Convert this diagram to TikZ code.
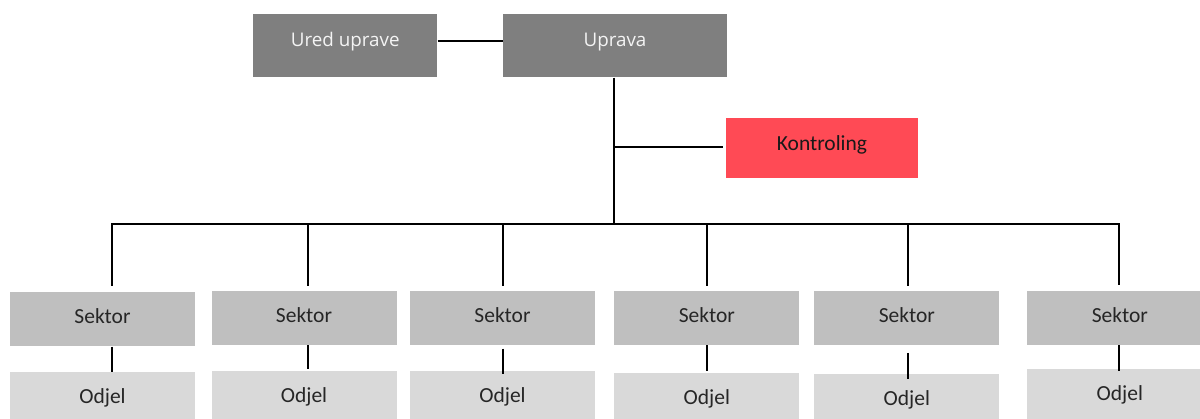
\documentclass[tikz,border=0pt]{standalone}
\usepackage{fontspec}
\setmainfont{Carlito}
\newfontfamily\osans{Open Sans}
\usetikzlibrary{calc}
\definecolor{topgray}{HTML}{7F7F7F}
\definecolor{toptext}{HTML}{F4F4F4}
\definecolor{kred}{HTML}{FF4A55}
\definecolor{sgray}{HTML}{BFBFBF}
\definecolor{ogray}{HTML}{D9D9D9}
\definecolor{dtext}{HTML}{262626}
\begin{document}
\begin{tikzpicture}[x=1pt,y=-1pt,
  box/.style={rectangle, inner sep=0pt, text depth=0pt},
  topbox/.style={box, fill=topgray, text=toptext, minimum height=63pt, text height=1pt,
    font=\osans\fontsize{18.8}{22}\selectfont},
  kbox/.style={box, fill=kred, text=black!90, minimum width=191.4pt, minimum height=60pt, text height=4.8pt,
    font=\fontsize{21.5}{25}\selectfont},
  sbox/.style={box, fill=sgray, text=dtext, minimum width=185pt, minimum height=54.3pt, text height=9pt,
    font=\fontsize{21.5}{25}\selectfont},
  obox/.style={sbox, fill=ogray},
  conn/.style={draw=black, line width=2.2pt, line join=miter}]
\useasboundingbox (0,0) rectangle (1200,418);
\clip (0,0) rectangle (1200,418);
% top boxes
\node[topbox, minimum width=184pt] (ured) at (345.3,45.8) {Ured uprave};
\node[topbox, minimum width=223.4pt] (upr) at (615,45.8) {Uprava};
\node[kbox] (kon) at (822,148.3) {Kontroling};
% sektors
\node[sbox] (s1) at (102.5,319.2) {Sektor};
\node[sbox] (s2) at (304,317.7) {Sektor};
\node[sbox] (s3) at (502.5,317.85) {Sektor};
\node[sbox] (s4) at (706.8,317.85) {Sektor};
\node[sbox] (s5) at (906.8,317.85) {Sektor};
\node[sbox] (s6) at (1119.8,317.85) {Sektor};
% odjels
\node[obox] (o1) at (102.5,398.85) {Odjel};
\node[obox] (o2) at (304,398.45) {Odjel};
\node[obox] (o3) at (502.5,398.45) {Odjel};
\node[obox] (o4) at (706.8,400.15) {Odjel};
\node[obox] (o5) at (906.8,401.45) {Odjel};
\node[obox] (o6) at (1119.8,395.85) {Odjel};
% bus coordinates
\coordinate (bm) at (614,224.3);
\coordinate (b1) at (111.7,224.3);
\coordinate (b2) at (307.7,224.3);
\coordinate (b3) at (503,224.3);
\coordinate (b4) at (706.7,224.3);
\coordinate (b5) at (907.7,224.3);
\coordinate (b6) at (1119.3,224.3);
% connectors
\draw[conn] ($(ured.east)+(0,-5.1)$) -- ($(upr.west)+(0,-5.1)$);
\draw[conn] (bm |- upr.south) -- (bm);
\draw[conn, shorten >=3pt] ($(bm |- kon.west)+(0,-1)$) -- ($(kon.west)+(0,-1)$);
\draw[conn, shorten <=6.3pt, shorten >=5.7pt] (b1 |- s1.north) -- (b1) -- (b6) -- (b6 |- s6.north);
\draw[conn, shorten >=4.7pt] (b2) -- (b2 |- s2.north);
\draw[conn, shorten >=4.7pt] (b3) -- (b3 |- s3.north);
\draw[conn, shorten >=4.7pt] (b4) -- (b4 |- s4.north);
\draw[conn, shorten >=4.7pt] (b5) -- (b5 |- s5.north);
\draw[conn] (b1 |- s1.south) -- (b1 |- o1.north);
\draw[conn, shorten >=2pt] (b2 |- s2.south) -- (b2 |- o2.north);
\draw[conn] ($(b3 |- s3.south)+(0,3.3)$) -- ($(b3 |- o3.north)+(0,2.7)$);
\draw[conn, shorten >=2.3pt] (b4 |- s4.south) -- (b4 |- o4.north);
\draw[conn] ($(b5 |- s5.south)+(0,7.7)$) -- ($(b5 |- o5.north)+(0,4.4)$);
\draw[conn] (b6 |- s6.south) -- ($(b6 |- o6.north)+(0,2.6)$);
\end{tikzpicture}
\end{document}
